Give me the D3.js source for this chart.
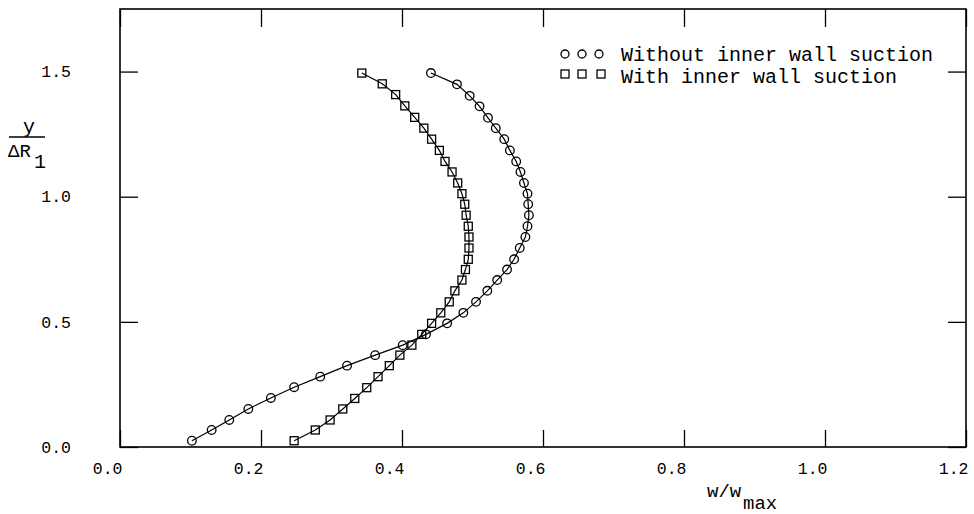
<!DOCTYPE html>
<html>
<head>
<meta charset="utf-8">
<script src="https://cdn.jsdelivr.net/npm/d3@7"></script>
<style>
  body { margin: 0; background: #fff; }
  text { font-family: "Liberation Mono", "Courier New", monospace; fill: #000; }
</style>
</head>
<body>
<div id="wrapper"></div>
<script>
// without inner wall suction (circles)
const withoutW = [0.102,0.130,0.155,0.182,0.214,0.247,0.284,0.322,0.362,0.401,0.434,0.464,0.487,0.505,0.521,0.535,0.549,0.559,0.567,0.575,0.578,0.580,0.579,0.578,0.573,0.568,0.562,0.553,0.545,0.533,0.522,0.510,0.496,0.478,0.441]
const withoutY = [0.025,0.068,0.108,0.152,0.196,0.239,0.281,0.325,0.367,0.407,0.450,0.494,0.536,0.580,0.624,0.667,0.709,0.750,0.795,0.839,0.882,0.926,0.970,1.012,1.055,1.099,1.141,1.185,1.230,1.274,1.315,1.361,1.403,1.449,1.494]
// with inner wall suction (squares)
const withW = [0.247,0.277,0.298,0.316,0.333,0.350,0.366,0.382,0.397,0.414,0.428,0.442,0.455,0.467,0.475,0.485,0.490,0.494,0.495,0.495,0.494,0.491,0.489,0.485,0.479,0.471,0.461,0.453,0.442,0.431,0.418,0.404,0.391,0.372,0.343]
const withY = [0.025,0.068,0.108,0.152,0.194,0.237,0.281,0.325,0.367,0.407,0.450,0.494,0.536,0.580,0.624,0.667,0.709,0.750,0.795,0.839,0.882,0.926,0.970,1.012,1.055,1.099,1.141,1.185,1.230,1.274,1.317,1.363,1.408,1.451,1.494]

const xTicks = [0, 0.2, 0.4, 0.6, 0.8, 1.0, 1.2]
const yTicks = [0, 0.5, 1.0, 1.5]
const legendLabels = ["Without inner wall suction", "With inner wall suction"]

const width = 974
const height = 514
const dimension = {
    left: 120,
    right: 966,
    top: 9,
    bottom: 447,
}

const svg = d3.select("#wrapper")
    .append("svg")
    .attr("width", width)
    .attr("height", height)

const xScaler = d3.scaleLinear()
    .domain([0, 1.2])
    .range([dimension.left, dimension.right])

const yScaler = d3.scaleLinear()
    .domain([0, 1.75])
    .range([dimension.bottom, dimension.top])

// bottom axis, ticks pointing in, labels pushed left of the tick
const xAxis = svg.append("g")
    .attr("transform", `translate(0,${dimension.bottom})`)
    .call(d3.axisBottom(xScaler).tickValues(xTicks).tickFormat(d3.format(".1f"))
        .tickSizeInner(-17).tickSizeOuter(0).tickPadding(15))
xAxis.selectAll("text")
    .attr("text-anchor", "end")
    .attr("x", 2)
    .attr("font-size", "16.5px")

const topAxis = svg.append("g")
    .attr("transform", `translate(0,${dimension.top})`)
    .call(d3.axisTop(xScaler).tickValues(xTicks).tickFormat("")
        .tickSizeInner(-18).tickSizeOuter(0))

const yAxis = svg.append("g")
    .attr("transform", `translate(${dimension.left},0)`)
    .call(d3.axisLeft(yScaler).tickValues(yTicks).tickFormat(d3.format(".1f"))
        .tickSizeInner(-18).tickSizeOuter(0).tickPadding(49))
yAxis.selectAll("text")
    .attr("font-size", "16.5px")

const rightAxis = svg.append("g")
    .attr("transform", `translate(${dimension.right},0)`)
    .call(d3.axisRight(yScaler).tickValues(yTicks).tickFormat("")
        .tickSizeInner(-18).tickSizeOuter(0))

svg.selectAll(".domain").remove()
svg.selectAll(".tick line").attr("stroke", "#000").attr("stroke-width", 1.3)

svg.append("rect")
    .attr("x", dimension.left)
    .attr("y", dimension.top)
    .attr("width", dimension.right - dimension.left)
    .attr("height", dimension.bottom - dimension.top)
    .attr("fill", "none")
    .attr("stroke", "#000")
    .attr("stroke-width", 1.6)

// axis titles
svg.append("text").attr("x", 29).attr("y", 133).attr("text-anchor", "middle")
    .attr("font-size", "20px").text("y")
svg.append("line").attr("x1", 9).attr("x2", 45).attr("y1", 137).attr("y2", 137)
    .attr("stroke", "#000").attr("stroke-width", 1.3)
svg.append("text").attr("x", 8).attr("y", 157).attr("font-size", "19px").text("ΔR")
svg.append("text").attr("x", 34).attr("y", 168).attr("font-size", "20px").text("1")

svg.append("text").attr("x", 707).attr("y", 497).attr("font-size", "19px").text("w/w")
svg.append("text").attr("x", 743).attr("y", 509).attr("font-size", "19px").text("max")

// series
const line = d3.line()
    .x(d => xScaler(d[0]))
    .y(d => yScaler(d[1]))

const circleData = d3.zip(withoutW, withoutY)
const squareData = d3.zip(withW, withY)

svg.append("path")
    .datum(circleData)
    .attr("d", line)
    .attr("fill", "none")
    .attr("stroke", "#000")
    .attr("stroke-width", 1.2)

svg.append("path")
    .datum(squareData)
    .attr("d", line)
    .attr("fill", "none")
    .attr("stroke", "#000")
    .attr("stroke-width", 1.2)

svg.append("g").selectAll("circle")
    .data(circleData)
    .enter()
    .append("circle")
    .attr("cx", d => xScaler(d[0]))
    .attr("cy", d => yScaler(d[1]))
    .attr("r", 4.3)
    .attr("fill", "none")
    .attr("stroke", "#000")
    .attr("stroke-width", 1.3)

const sq = 8
svg.append("g").selectAll("rect")
    .data(squareData)
    .enter()
    .append("rect")
    .attr("x", d => xScaler(d[0]) - sq / 2)
    .attr("y", d => yScaler(d[1]) - sq / 2)
    .attr("width", sq)
    .attr("height", sq)
    .attr("fill", "none")
    .attr("stroke", "#000")
    .attr("stroke-width", 1.3)

// legend
const legend = svg.append("g")
legend.selectAll("circle")
    .data([565, 582, 599])
    .enter()
    .append("circle")
    .attr("cx", d => d)
    .attr("cy", 54)
    .attr("r", 4)
    .attr("fill", "none")
    .attr("stroke", "#000")
    .attr("stroke-width", 1.3)
legend.selectAll("rect")
    .data([565, 582, 601])
    .enter()
    .append("rect")
    .attr("x", d => d - 4)
    .attr("y", 70)
    .attr("width", 8)
    .attr("height", 8)
    .attr("fill", "none")
    .attr("stroke", "#000")
    .attr("stroke-width", 1.3)
legend.selectAll("text")
    .data(legendLabels)
    .enter()
    .append("text")
    .attr("x", 621)
    .attr("y", (d, i) => 61 + i * 22)
    .attr("font-size", "20px")
    .text(d => d)
</script>
</body>
</html>
